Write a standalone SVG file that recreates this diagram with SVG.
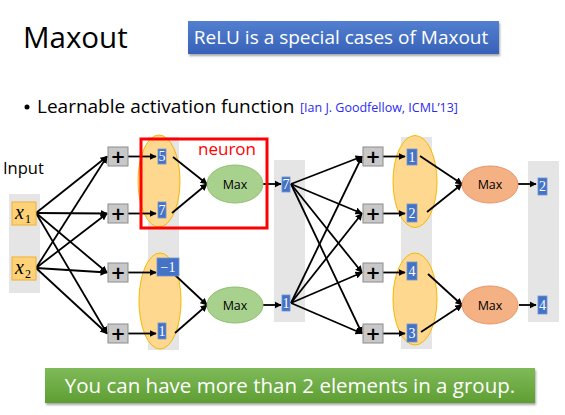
<svg xmlns="http://www.w3.org/2000/svg" width="565" height="415" viewBox="0 0 565 415">
<defs>
<style>
.col{fill:#e5e5e5}
.grp{fill:#ffd88f;stroke:#f5b800;stroke-width:1}
.num{fill:#4472c4;stroke:#6f93d6;stroke-width:0.8}
.numt{font-family:"Liberation Serif",serif;font-size:14px;fill:#fff;text-anchor:middle}
.plus{fill:#c8c8c8;stroke:#8c8c8c;stroke-width:1}
.plust{font-family:"DejaVu Sans",sans-serif;font-size:18px;fill:#000;text-anchor:middle;font-weight:bold}
.maxg{fill:#a9d18e;stroke:#8fbf70;stroke-width:1}
.maxo{fill:#f4b183;stroke:#e8956a;stroke-width:1}
.maxt{font-family:"Open Sans","Liberation Sans",sans-serif;font-size:12.5px;fill:#000;text-anchor:middle}
.ar{stroke:#000;stroke-width:1.8;fill:none;marker-end:url(#ah)}
.xin{fill:#ffd27a;stroke:#f0b030;stroke-width:1}
.xt{font-family:"Liberation Serif",serif;font-style:italic;font-size:20px;fill:#000}
.xs{font-family:"Liberation Serif",serif;font-size:12px;fill:#000}
.sans{font-family:"Open Sans","Liberation Sans",sans-serif}
</style>
<marker id="ah" viewBox="0 0 10 10" refX="9" refY="5" markerWidth="4" markerHeight="4" orient="auto" markerUnits="strokeWidth">
<path d="M0,0 L10,5 L0,10 z" fill="#000"/>
</marker>
<linearGradient id="gb" x1="0" y1="0" x2="0" y2="1">
<stop offset="0" stop-color="#537fd0"/>
<stop offset="1" stop-color="#3762b8"/>
</linearGradient>
<linearGradient id="gg" x1="0" y1="0" x2="0" y2="1">
<stop offset="0" stop-color="#7fba5a"/>
<stop offset="1" stop-color="#5e9e32"/>
</linearGradient>
<filter id="sh" x="-5%" y="-20%" width="110%" height="150%">
<feDropShadow dx="1" dy="2" stdDeviation="1.2" flood-color="#000" flood-opacity="0.35"/>
</filter>
</defs>

<text class="sans" x="23" y="48" font-size="29.5" fill="#000">Maxout</text>
<g id="relu-note">
<rect x="188" y="21" width="311" height="33" fill="url(#gb)" filter="url(#sh)"/>
<text class="sans" x="341" y="44" font-size="19" fill="#fff" text-anchor="middle">ReLU is a special cases of Maxout</text>
</g>
<circle cx="27" cy="107" r="2.5" fill="#000"/>
<text class="sans" x="37" y="113" font-size="19" fill="#000">Learnable activation function</text>
<text class="sans" x="300" y="112" font-size="12.5" fill="#2b2bf0">[Ian J. Goodfellow, ICML’13]</text>

<!-- background columns -->
<rect class="col" x="9" y="194" width="31" height="99"/>
<rect class="col" x="148" y="137" width="31" height="213"/>
<rect class="col" x="274" y="160" width="31" height="162"/>
<rect class="col" x="401" y="137" width="31" height="212"/>
<rect class="col" x="528" y="161" width="31" height="161"/>

<!-- group ellipses -->
<g id="group1"><ellipse class="grp" cx="159" cy="181" rx="21" ry="46"/></g>
<g id="group2"><ellipse class="grp" cx="160" cy="301" rx="21" ry="48"/></g>
<g id="group3"><ellipse class="grp" cx="415" cy="181.5" rx="22" ry="46"/></g>
<g id="group4"><ellipse class="grp" cx="415" cy="299" rx="22" ry="46"/></g>

<text class="sans" x="3" y="174" font-size="16.5" fill="#000">Input</text>

<g id="connectors">
<line class="ar" x1="36" y1="213" x2="107" y2="156.5"/>
<line class="ar" x1="36" y1="213" x2="107" y2="213.5"/>
<line class="ar" x1="36" y1="213" x2="107" y2="272.5"/>
<line class="ar" x1="36" y1="213" x2="107" y2="333.5"/>
<line class="ar" x1="36" y1="268" x2="107" y2="156.5"/>
<line class="ar" x1="36" y1="268" x2="107" y2="213.5"/>
<line class="ar" x1="36" y1="268" x2="107" y2="272.5"/>
<line class="ar" x1="36" y1="268" x2="107" y2="333.5"/>
<line class="ar" x1="128" y1="156.5" x2="156" y2="156.5"/>
<line class="ar" x1="128" y1="213.5" x2="156" y2="213.5"/>
<line class="ar" x1="128" y1="272.5" x2="156" y2="272.5"/>
<line class="ar" x1="128" y1="333.5" x2="156" y2="333.5"/>
<line class="ar" x1="173" y1="157" x2="207" y2="184"/>
<line class="ar" x1="172" y1="213" x2="207" y2="184"/>
<line class="ar" x1="175" y1="275" x2="207" y2="305"/>
<line class="ar" x1="175" y1="333" x2="207" y2="305"/>
<line class="ar" x1="263" y1="184" x2="281" y2="184"/>
<line class="ar" x1="263" y1="305" x2="281" y2="305"/>
<line class="ar" x1="291" y1="184" x2="362" y2="156.5"/>
<line class="ar" x1="291" y1="184" x2="362" y2="213.5"/>
<line class="ar" x1="291" y1="184" x2="362" y2="272.5"/>
<line class="ar" x1="291" y1="184" x2="362" y2="333.5"/>
<line class="ar" x1="291" y1="303" x2="362" y2="156.5"/>
<line class="ar" x1="291" y1="303" x2="362" y2="213.5"/>
<line class="ar" x1="291" y1="303" x2="362" y2="272.5"/>
<line class="ar" x1="291" y1="303" x2="362" y2="333.5"/>
<line class="ar" x1="383" y1="156.5" x2="405" y2="156.5"/>
<line class="ar" x1="383" y1="213.5" x2="405" y2="213.5"/>
<line class="ar" x1="383" y1="272.5" x2="405" y2="272.5"/>
<line class="ar" x1="383" y1="333.5" x2="405" y2="333.5"/>
<line class="ar" x1="420" y1="156" x2="462" y2="184"/>
<line class="ar" x1="427" y1="212" x2="462" y2="184"/>
<line class="ar" x1="428" y1="274" x2="462" y2="305"/>
<line class="ar" x1="421" y1="332" x2="462" y2="305"/>
<line class="ar" x1="518" y1="184" x2="536" y2="184"/>
<line class="ar" x1="519" y1="305" x2="536" y2="305"/>
</g>

<g id="x1"><rect class="xin" x="12" y="202" width="24" height="23"/><text class="xt" x="15" y="219">x</text><text class="xs" x="25" y="223">1</text></g>
<g id="x2"><rect class="xin" x="12" y="257" width="24" height="23"/><text class="xt" x="15" y="274">x</text><text class="xs" x="25" y="278">2</text></g>

<g id="plus1a"><rect class="plus" x="108" y="147" width="20" height="19"/><text class="plust" x="118" y="163">+</text></g>
<g id="plus1b"><rect class="plus" x="108" y="204" width="20" height="19"/><text class="plust" x="118" y="220">+</text></g>
<g id="plus1c"><rect class="plus" x="108" y="263" width="20" height="19"/><text class="plust" x="118" y="279">+</text></g>
<g id="plus1d"><rect class="plus" x="108" y="324" width="20" height="19"/><text class="plust" x="118" y="340">+</text></g>

<g id="n5"><rect class="num" x="158" y="149" width="8" height="15"/><text class="numt" x="162" y="161">5</text></g>
<g id="n7a"><rect class="num" x="158" y="202" width="8" height="16"/><text class="numt" x="162" y="215">7</text></g>
<g id="nm1"><rect class="num" x="157" y="258" width="22" height="18"/><text class="numt" x="168" y="272">−1</text></g>
<g id="n1a"><rect class="num" x="158" y="323" width="8" height="16"/><text class="numt" x="162" y="336">1</text></g>

<g id="max1"><ellipse class="maxg" cx="235" cy="184" rx="28" ry="19"/><text class="maxt" x="235" y="188.5">Max</text></g>
<g id="max2"><ellipse class="maxg" cx="235" cy="305" rx="28" ry="18"/><text class="maxt" x="235" y="309.5">Max</text></g>

<g id="neuron-box">
<rect x="141" y="139" width="126" height="89" fill="none" stroke="#ff0000" stroke-width="3"/>
<text class="sans" x="198" y="155" font-size="17" fill="#ff0000">neuron</text>
</g>

<g id="o7"><rect class="num" x="282" y="177" width="8" height="15"/><text class="numt" x="286" y="189">7</text></g>
<g id="o1"><rect class="num" x="282" y="295" width="8" height="16"/><text class="numt" x="286" y="308">1</text></g>

<g id="plus2a"><rect class="plus" x="363" y="147" width="20" height="19"/><text class="plust" x="373" y="163">+</text></g>
<g id="plus2b"><rect class="plus" x="363" y="204" width="20" height="19"/><text class="plust" x="373" y="220">+</text></g>
<g id="plus2c"><rect class="plus" x="363" y="263" width="20" height="19"/><text class="plust" x="373" y="279">+</text></g>
<g id="plus2d"><rect class="plus" x="363" y="324" width="20" height="19"/><text class="plust" x="373" y="340">+</text></g>

<g id="m1"><rect class="num" x="407" y="149" width="10" height="16"/><text class="numt" x="412" y="162">1</text></g>
<g id="m2"><rect class="num" x="407" y="204" width="10" height="18"/><text class="numt" x="412" y="218">2</text></g>
<g id="m4"><rect class="num" x="407" y="262" width="10" height="18"/><text class="numt" x="412" y="276">4</text></g>
<g id="m3"><rect class="num" x="407" y="324" width="10" height="18"/><text class="numt" x="412" y="338">3</text></g>

<g id="max3"><ellipse class="maxo" cx="490" cy="184.5" rx="28" ry="18.5"/><text class="maxt" x="490" y="189">Max</text></g>
<g id="max4"><ellipse class="maxo" cx="490" cy="305" rx="28" ry="19"/><text class="maxt" x="490" y="309.5">Max</text></g>

<g id="out2"><rect class="num" x="538" y="178" width="9" height="17"/><text class="numt" x="542.5" y="191">2</text></g>
<g id="out4"><rect class="num" x="538" y="296" width="9" height="18"/><text class="numt" x="542.5" y="310">4</text></g>

<g id="group-note">
<rect x="45" y="368" width="490" height="35" fill="url(#gg)" filter="url(#sh)"/>
<text class="sans" x="290" y="392.5" font-size="20.5" fill="#fff" text-anchor="middle">You can have more than 2 elements in a group.</text>
</g>
</svg>
